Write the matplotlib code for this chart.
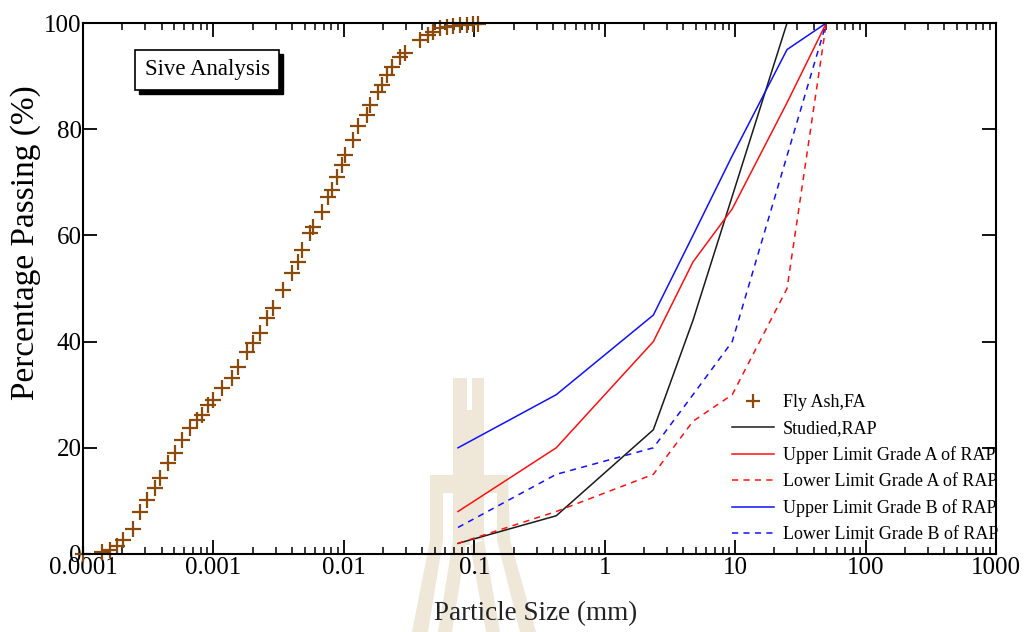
import matplotlib
matplotlib.use("Agg")
import matplotlib.pyplot as plt
import matplotlib.ticker as mticker
import matplotlib.transforms as mtrans
from matplotlib.patches import Polygon

plt.rcParams['font.family'] = ['Liberation Serif', 'DejaVu Serif']

# fly ash gradation (laser analysis)
fa_size = [0.0001, 0.000140, 0.000161, 0.000182, 0.000203, 0.000241, 0.000274,
           0.000310, 0.000356, 0.000389, 0.000449, 0.000508, 0.000574, 0.000662,
           0.000748, 0.000818, 0.000910, 0.000993, 0.00116, 0.00139, 0.00155,
           0.00181, 0.00201, 0.00228, 0.00258, 0.00286, 0.00342, 0.00401,
           0.00446, 0.00478, 0.00551, 0.00581, 0.00681, 0.00757, 0.00811,
           0.00887, 0.00968, 0.0102, 0.0118, 0.0129, 0.0151, 0.0159, 0.0183,
           0.0196, 0.0214, 0.0234, 0.0270, 0.0294, 0.0384, 0.0443, 0.0483,
           0.0547, 0.0618, 0.0687, 0.0778, 0.0881, 0.0980, 0.107]
fa_pass = [0.0, 0.4, 0.8, 1.5, 2.6, 4.7, 7.9,
           10.2, 12.4, 14.3, 17.1, 19.0, 21.5, 23.7,
           25.2, 26.2, 28.1, 29.0, 31.3, 33.1, 35.2,
           38.0, 39.7, 41.6, 44.4, 46.3, 49.7, 52.9,
           55.0, 57.3, 60.5, 61.6, 64.4, 67.2, 68.5,
           71.0, 73.3, 75.1, 78.0, 80.6, 82.7, 84.6, 87.0,
           88.3, 90.2, 91.7, 93.6, 94.4, 96.8, 97.7, 98.3,
           99.1, 99.2, 99.4, 99.6, 99.6, 99.8, 99.8]

# RAP and spec limits
rap_size = [0.075, 0.425, 2.36, 4.75, 25]
rap_pass = [2, 7.2, 23.4, 44, 100]

sieve = [0.075, 0.425, 2.36, 4.75, 9.5, 25, 50]
upper_a = [8, 20, 40, 55, 65, 85, 100]
lower_a = [2, 8, 15, 25, 30, 50, 100]
upper_b = [20, 30, 45, 60, 75, 95, 100]
lower_b = [5, 15, 20, 30, 40, 75, 100]

xtick_vals = [0.0001, 0.001, 0.01, 0.1, 1, 10, 100, 1000]
xtick_labels = ['0.0001', '0.001', '0.01', '0.1', '1', '10', '100', '1000']
ytick_vals = [0, 20, 40, 60, 80, 100]

W, H = 1032, 632
fig = plt.figure(figsize=(W / 100, H / 100), dpi=100)

# faded logo watermark behind the plot (pixel outline of the page logo)
wm = '#efe8d9'
shapes = [
    [(453, 378), (467, 378), (467, 410), (472, 410), (472, 378), (484, 378),
     (484, 540), (470, 540), (470, 545), (466, 545), (453, 540)],
    [(430, 475), (453, 475), (453, 493), (443, 493), (443, 540), (428, 632),
     (412, 632), (430, 540)],
    [(484, 475), (508, 475), (510, 540), (536, 632), (520, 632), (497, 540),
     (497, 493), (484, 493)],
    [(453, 540), (466, 545), (452, 632), (438, 632)],
    [(470, 545), (484, 540), (500, 632), (486, 632)],
]
for s in shapes:
    fig.patches.append(Polygon([(x / W, 1 - y / H) for x, y in s],
                               closed=True, transform=fig.transFigure,
                               facecolor=wm, edgecolor='none', zorder=0))

ax = fig.add_axes([83 / W, 1 - 554 / H, 913 / W, 531 / H])
ax.set_facecolor('none')
ax.set_zorder(2)

ax.plot(fa_size, fa_pass, linestyle='none', marker='+', markersize=11,
        markeredgewidth=1.6, color='#8c4a0a', label='Fly Ash,FA', clip_on=False)
ax.plot(rap_size, rap_pass, color='#1a1a1a', lw=1.1, label='Studied,RAP')
ax.plot(sieve, upper_a, color='#ff1010', lw=1.1, label='Upper Limit Grade A of RAP')
ax.plot(sieve, lower_a, color='#ff1010', lw=1.1, ls=(0, (4, 3.5)),
        label='Lower Limit Grade A of RAP')
ax.plot(sieve, upper_b, color='#1010ff', lw=1.1, label='Upper Limit Grade B of RAP')
ax.plot(sieve, lower_b, color='#1010ff', lw=1.1, ls=(0, (4, 3.5)),
        label='Lower Limit Grade B of RAP')

ax.set_xscale('log')
ax.set_xlim(0.0001, 1000)
ax.set_ylim(0, 100)
ax.set_xticks(xtick_vals)
ax.set_xticklabels(xtick_labels)
ax.xaxis.set_minor_locator(mticker.LogLocator(base=10, subs=range(2, 10), numticks=20))
ax.xaxis.set_minor_formatter(mticker.NullFormatter())
ax.set_yticks(ytick_vals)

for sp in ax.spines.values():
    sp.set_linewidth(1.5)

ax.tick_params(axis='both', which='major', direction='in', length=10, width=1.3,
               labelsize=18, top=True, right=True, pad=2)
ax.tick_params(axis='x', which='minor', direction='in', length=5, width=1.1,
               top=True, bottom=True)
ax.tick_params(axis='y', pad=1)

ax.set_xlabel('Particle Size (mm)', fontsize=19.5, color='#222222')
ax.xaxis.set_label_coords(0.496, -0.088)
ax.set_ylabel('Percentage Passing (%)', fontsize=24)
ax.yaxis.set_label_coords(-0.046, 0.586)

# title box with drop shadow
shadow_tr = mtrans.offset_copy(ax.transAxes, fig=fig, x=4, y=-4, units='dots')
ax.text(0.136, 0.912, 'Sive Analysis', transform=shadow_tr, fontsize=16.5,
        ha='center', va='center', color='black',
        bbox=dict(boxstyle='square,pad=0.42', facecolor='black', edgecolor='black'))
ax.text(0.136, 0.912, 'Sive Analysis', transform=ax.transAxes, fontsize=16.5,
        ha='center', va='center', color='black',
        bbox=dict(boxstyle='square,pad=0.42', facecolor='white', edgecolor='black',
                  linewidth=1.2))

leg = ax.legend(loc='lower right', bbox_to_anchor=(1.014, 0.0), frameon=False,
                fontsize=13, handlelength=2.3, handletextpad=0.5,
                labelspacing=0.5, numpoints=1, borderaxespad=0.2)
leg.legend_handles[0].set_markersize(10)

fig.savefig('out.png', dpi=100)
plt.close(fig)
